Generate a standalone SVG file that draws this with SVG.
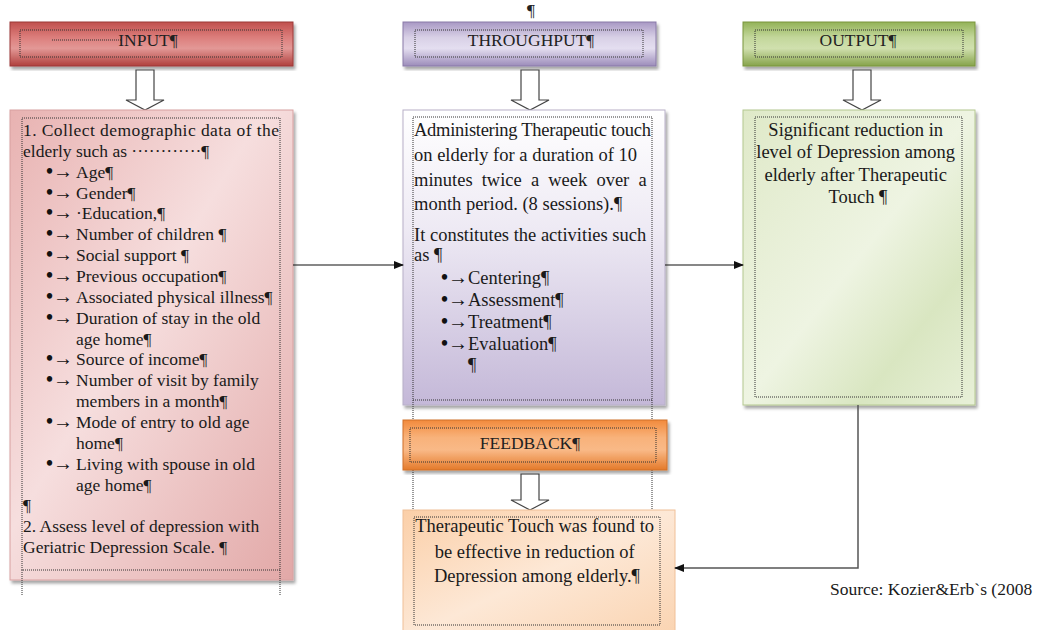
<svg xmlns="http://www.w3.org/2000/svg" width="1046" height="630" viewBox="0 0 1046 630">
<style>
.t{font-family:"Liberation Serif","Times New Roman",serif;font-size:17.5px;fill:#1a1a1a}
.tb{font-family:"Liberation Serif","Times New Roman",serif;font-size:18.5px;fill:#1a1a1a}
.bul{font-weight:bold;fill:#111;font-size:20px}
.h{font-family:"Liberation Serif","Times New Roman",serif;font-size:17.5px;fill:#222;text-anchor:middle}
.dot{fill:none;stroke:#333;stroke-width:1;stroke-dasharray:1 1}
.harrow{fill:#fff;stroke:#444;stroke-width:1.2}
.conn{fill:none;stroke:#111;stroke-width:1.2}
.conn2{fill:none;stroke:#555;stroke-width:1.5}
</style>
<defs>
<marker id="ah" markerWidth="10" markerHeight="8" refX="9" refY="4" orient="auto" markerUnits="userSpaceOnUse">
<path d="M0,0 L10,4 L0,8 z" fill="#111"/>
</marker>
<filter id="sh" x="-5%" y="-5%" width="115%" height="115%">
<feDropShadow dx="2" dy="3" stdDeviation="1.5" flood-color="#000" flood-opacity="0.35"/>
</filter>
<linearGradient id="gRedH" x1="0" y1="0" x2="0" y2="1">
<stop offset="0" stop-color="#c0504d"/><stop offset="0.35" stop-color="#dc7e7c"/><stop offset="0.6" stop-color="#e39896"/><stop offset="1" stop-color="#b0403d"/>
</linearGradient>
<linearGradient id="gPurH" x1="0" y1="0" x2="0" y2="1">
<stop offset="0" stop-color="#a898c4"/><stop offset="0.35" stop-color="#d8d0e6"/><stop offset="0.6" stop-color="#e4def0"/><stop offset="1" stop-color="#9c8cba"/>
</linearGradient>
<linearGradient id="gGrnH" x1="0" y1="0" x2="0" y2="1">
<stop offset="0" stop-color="#93b257"/><stop offset="0.35" stop-color="#c3d79b"/><stop offset="0.6" stop-color="#d0e0ae"/><stop offset="1" stop-color="#86a34a"/>
</linearGradient>
<linearGradient id="gOrH" x1="0" y1="0" x2="0" y2="1">
<stop offset="0" stop-color="#f28a3c"/><stop offset="0.35" stop-color="#f8b27a"/><stop offset="0.6" stop-color="#f9b987"/><stop offset="1" stop-color="#e47a2a"/>
</linearGradient>
<linearGradient id="gRedB" x1="0" y1="0" x2="1" y2="1">
<stop offset="0" stop-color="#e8b2b1"/><stop offset="0.45" stop-color="#f6dede"/><stop offset="1" stop-color="#e2a8a7"/>
</linearGradient>
<linearGradient id="gPurB" x1="0" y1="0" x2="0" y2="1">
<stop offset="0" stop-color="#ffffff"/><stop offset="0.4" stop-color="#eeeaf4"/><stop offset="1" stop-color="#c4b8d8"/>
</linearGradient>
<linearGradient id="gGrnB" x1="0" y1="0" x2="1" y2="1">
<stop offset="0" stop-color="#dfe9c8"/><stop offset="0.5" stop-color="#eef4e2"/><stop offset="0.75" stop-color="#d9e6c1"/><stop offset="1" stop-color="#e8f0d8"/>
</linearGradient>
<linearGradient id="gOrB" x1="0" y1="0" x2="1" y2="1">
<stop offset="0" stop-color="#fbcfa8"/><stop offset="0.5" stop-color="#fde8d6"/><stop offset="1" stop-color="#fad3b0"/>
</linearGradient>
</defs>
<rect width="1046" height="630" fill="#fff"/>
<text x="531" y="16" class="h" font-size="11">¶</text>

<g id="input-header">
<rect x="10" y="22" width="283" height="44" fill="url(#gRedH)" stroke="#9c3a38" filter="url(#sh)"/>
<rect x="20" y="30" width="262" height="27" class="dot"/>
<line x1="52" y1="40" x2="122" y2="40" class="dot"/>
<text x="148" y="46" class="h">INPUT¶</text>
</g>
<g id="throughput-header">
<rect x="403" y="22" width="253" height="44" fill="url(#gPurH)" stroke="#8a7aa8" filter="url(#sh)"/>
<rect x="415" y="30" width="228" height="27" class="dot"/>
<text x="531" y="46" class="h">THROUGHPUT¶</text>
</g>
<g id="output-header">
<rect x="743" y="22" width="232" height="44" fill="url(#gGrnH)" stroke="#7a963f" filter="url(#sh)"/>
<rect x="755" y="30" width="208" height="27" class="dot"/>
<text x="858" y="46" class="h">OUTPUT¶</text>
</g>

<g id="arrows-down">
<path class="harrow" d="M136,70 H154 V100 H164 L145,110 L126,100 H136 Z"/>
<path class="harrow" d="M521,70 H539 V100 H549 L530,110 L511,100 H521 Z"/>
<path class="harrow" d="M853,70 H871 V100 H881 L862,110 L843,100 H853 Z"/>
<path class="harrow" d="M521,474 H539 V500 H549 L530,510 L511,500 H521 Z"/>
</g>

<g id="input-box">
<rect x="10" y="110" width="283" height="470" fill="url(#gRedB)" stroke="#d8a0a0" filter="url(#sh)"/>
<rect x="22" y="118" width="258" height="452" class="dot"/>
<line x1="22" y1="570" x2="22" y2="596" class="dot"/>
<line x1="280" y1="570" x2="280" y2="596" class="dot"/>
<text class="t">
<tspan x="23" y="136" textLength="256" lengthAdjust="spacing">1. Collect demographic data of the</tspan>
<tspan x="23" y="157">elderly such as ············¶</tspan>
</text>
<text class="t bul">
<tspan x="46" y="177.7">•→</tspan>
<tspan x="46" y="198.6">•→</tspan>
<tspan x="46" y="219.4">•→</tspan>
<tspan x="46" y="240.3">•→</tspan>
<tspan x="46" y="261.1">•→</tspan>
<tspan x="46" y="282">•→</tspan>
<tspan x="46" y="302.8">•→</tspan>
<tspan x="46" y="323.7">•→</tspan>
<tspan x="46" y="365.4">•→</tspan>
<tspan x="46" y="386.2">•→</tspan>
<tspan x="46" y="427.9">•→</tspan>
<tspan x="46" y="469.6">•→</tspan>
</text>
<text class="t">
<tspan x="76" y="177.7">Age¶</tspan>
<tspan x="76" y="198.6">Gender¶</tspan>
<tspan x="76" y="219.4">·Education,¶</tspan>
<tspan x="76" y="240.3">Number of children ¶</tspan>
<tspan x="76" y="261.1">Social support ¶</tspan>
<tspan x="76" y="282">Previous occupation¶</tspan>
<tspan x="76" y="302.8">Associated physical illness¶</tspan>
<tspan x="76" y="323.7">Duration of stay in the old</tspan>
<tspan x="76" y="344.5">age home¶</tspan>
<tspan x="76" y="365.4">Source of income¶</tspan>
<tspan x="76" y="386.2">Number of visit by family</tspan>
<tspan x="76" y="407.1">members in a month¶</tspan>
<tspan x="76" y="427.9">Mode of entry to old age</tspan>
<tspan x="76" y="448.8">home¶</tspan>
<tspan x="76" y="469.6">Living with spouse in old</tspan>
<tspan x="76" y="490.5">age home¶</tspan>
</text>
<text class="t">
<tspan x="23" y="511.3">¶</tspan>
<tspan x="23" y="532.2">2. Assess level of depression with</tspan>
<tspan x="23" y="553">Geriatric Depression Scale. ¶</tspan>
</text>
</g>

<g id="throughput-box">
<rect x="403" y="110" width="262" height="295" fill="url(#gPurB)" stroke="#b8b0c8" filter="url(#sh)"/>
<rect x="413" y="117" width="239" height="283" class="dot"/>
<line x1="413" y1="400" x2="413" y2="582" class="dot"/>
<line x1="652" y1="400" x2="652" y2="582" class="dot"/>
<text class="tb">
<tspan x="414" y="136" textLength="237" lengthAdjust="spacing">Administering Therapeutic touch</tspan>
<tspan x="414" y="161">on elderly for a duration of 10</tspan>
<tspan x="414" y="186" word-spacing="4.5">minutes twice a week over a</tspan>
<tspan x="414" y="210">month period. (8 sessions).¶</tspan>
<tspan x="414" y="241">It constitutes the activities such</tspan>
<tspan x="414" y="261">as ¶</tspan>
<tspan x="468" y="371">¶</tspan>
</text>
<text class="tb bul">
<tspan x="441" y="284">•→</tspan>
<tspan x="441" y="306">•→</tspan>
<tspan x="441" y="328">•→</tspan>
<tspan x="441" y="350">•→</tspan>
</text>
<text class="tb">
<tspan x="468" y="284">Centering¶</tspan>
<tspan x="468" y="306">Assessment¶</tspan>
<tspan x="468" y="328">Treatment¶</tspan>
<tspan x="468" y="350">Evaluation¶</tspan>
</text>
</g>

<g id="output-box">
<rect x="743" y="110" width="232" height="295" fill="url(#gGrnB)" stroke="#b4c890" filter="url(#sh)"/>
<rect x="755" y="117" width="207" height="280" class="dot"/>
<text class="tb" text-anchor="middle" font-size="19">
<tspan x="858" y="136">Significant reduction in</tspan>
<tspan x="858" y="158">level of Depression among</tspan>
<tspan x="858" y="181">elderly after Therapeutic</tspan>
<tspan x="858" y="203">Touch ¶</tspan>
</text>
</g>

<g id="feedback-header">
<rect x="403" y="420" width="264" height="50" fill="url(#gOrH)" stroke="#d0702a" filter="url(#sh)"/>
<rect x="410" y="428" width="246" height="34" class="dot"/>
<text x="530" y="449" class="h">FEEDBACK¶</text>
</g>

<g id="result-box">
<rect x="403" y="510" width="272" height="130" fill="url(#gOrB)" stroke="#f0c098"/>
<rect x="414" y="517" width="246" height="108" class="dot"/>
<text class="tb" text-anchor="middle" font-size="19">
<tspan x="537" y="532">Therapeutic Touch was found to</tspan>
<tspan x="537" y="558">be effective in reduction of</tspan>
<tspan x="537" y="582">Depression among elderly.¶</tspan>
</text>
</g>

<g id="connectors">
<line x1="293" y1="265" x2="403" y2="265" class="conn" marker-end="url(#ah)"/>
<line x1="665" y1="265" x2="743" y2="265" class="conn" marker-end="url(#ah)"/>
<polyline points="858,405 858,568 675,568" class="conn2" marker-end="url(#ah)"/>
</g>

<text x="830" y="595" class="t" font-size="16.5">Source: Kozier&amp;Erb`s (2008</text>
</svg>
